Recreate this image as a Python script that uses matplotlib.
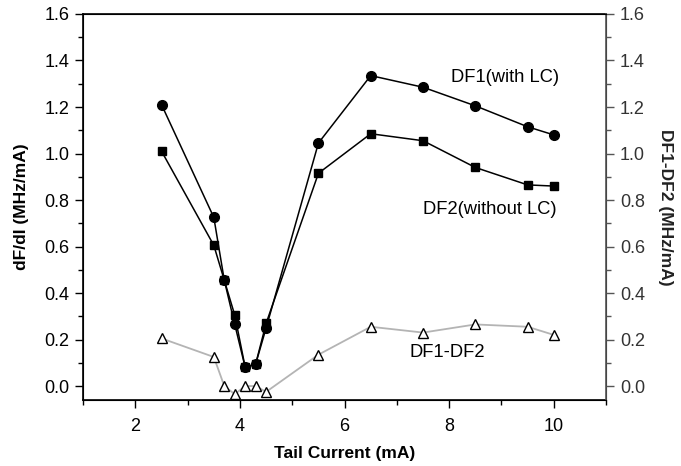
import numpy as np
import matplotlib
matplotlib.use("Agg")
import matplotlib.pyplot as plt
from matplotlib.ticker import MultipleLocator, FormatStrFormatter

plt.rcParams['font.family'] = ['Liberation Sans', 'DejaVu Sans']

# tail current (mA)
current = [2.5, 3.5, 3.7, 3.9, 4.1, 4.3, 4.5, 5.5, 6.5, 7.5, 8.5, 9.5, 10.0]
# DF1 with LC (MHz/mA)
df1 = [1.21, 0.725, 0.455, 0.265, 0.08, 0.095, 0.25, 1.045, 1.335, 1.285, 1.205, 1.115, 1.08]
# DF2 without LC (MHz/mA)
df2 = [1.01, 0.605, 0.455, 0.305, 0.08, 0.095, 0.27, 0.915, 1.085, 1.055, 0.94, 0.865, 0.86]
# difference DF1-DF2 (MHz/mA)
diff = [0.205, 0.125, 0.0, -0.035, 0.0, 0.0, -0.025, 0.135, 0.255, 0.23, 0.265, 0.255, 0.22]

fig = plt.figure(figsize=(6.81, 4.66), dpi=100)
ax = fig.add_axes([0.122, 0.1416, 0.768, 0.8284])
ax2 = ax.twinx()

# main curves on left axis
ax.plot(current, df2, color='black', lw=1.1, marker='s', ms=5.5, zorder=3)
ax.plot(current, df1, color='black', lw=1.1, marker='o', ms=7, zorder=4)

# difference on right axis
ax2.plot(current, diff, color='#b4b4b4', lw=1.3, marker='^', ms=6.5,
         mfc='white', mec='black', mew=1.0)

ax.set_xlim(1, 11)
ax.set_ylim(-0.06, 1.6)
ax2.set_ylim(-0.06, 1.6)

ax.xaxis.set_major_locator(MultipleLocator(2))
ax.xaxis.set_minor_locator(MultipleLocator(1))
for a in (ax, ax2):
    a.yaxis.set_major_locator(MultipleLocator(0.2))
    a.yaxis.set_minor_locator(MultipleLocator(0.1))
    a.yaxis.set_major_formatter(FormatStrFormatter('%.1f'))

ax.tick_params(axis='both', which='major', direction='out', length=6, width=1.0,
               labelsize=13, top=False, right=False, pad=4)
ax.tick_params(axis='both', which='minor', direction='out', length=3.5, width=1.0,
               top=False, right=False)
ax.tick_params(axis='x', which='major', pad=7)

grey = '#555555'
ax2.spines['right'].set_color(grey)
ax2.tick_params(axis='y', which='major', direction='out', length=6, width=1.0,
                labelsize=13, colors=grey, labelcolor='#333333', pad=4)
ax2.tick_params(axis='y', which='minor', direction='out', length=3.5, width=1.0,
                colors=grey)

for sp in ['left', 'bottom', 'top']:
    ax.spines[sp].set_linewidth(1.2)
ax2.spines['right'].set_linewidth(1.2)

ax.set_xlabel('Tail Current (mA)', fontsize=12.5, fontweight='bold', labelpad=8)
ax.set_ylabel('dF/dI (MHz/mA)', fontsize=12.5, fontweight='bold', labelpad=11)
ax2.set_ylabel('DF1-DF2 (MHz/mA)', fontsize=12.5, fontweight='bold',
               rotation=270, labelpad=20, color='#222222')

ax.text(10.1, 1.325, 'DF1(with LC)', fontsize=13.2, ha='right', va='center')
ax.text(10.06, 0.76, 'DF2(without LC)', fontsize=13.2, ha='right', va='center')
ax.text(7.97, 0.146, 'DF1-DF2', fontsize=13.2, ha='center', va='center')

fig.savefig('out.png', dpi=100)
